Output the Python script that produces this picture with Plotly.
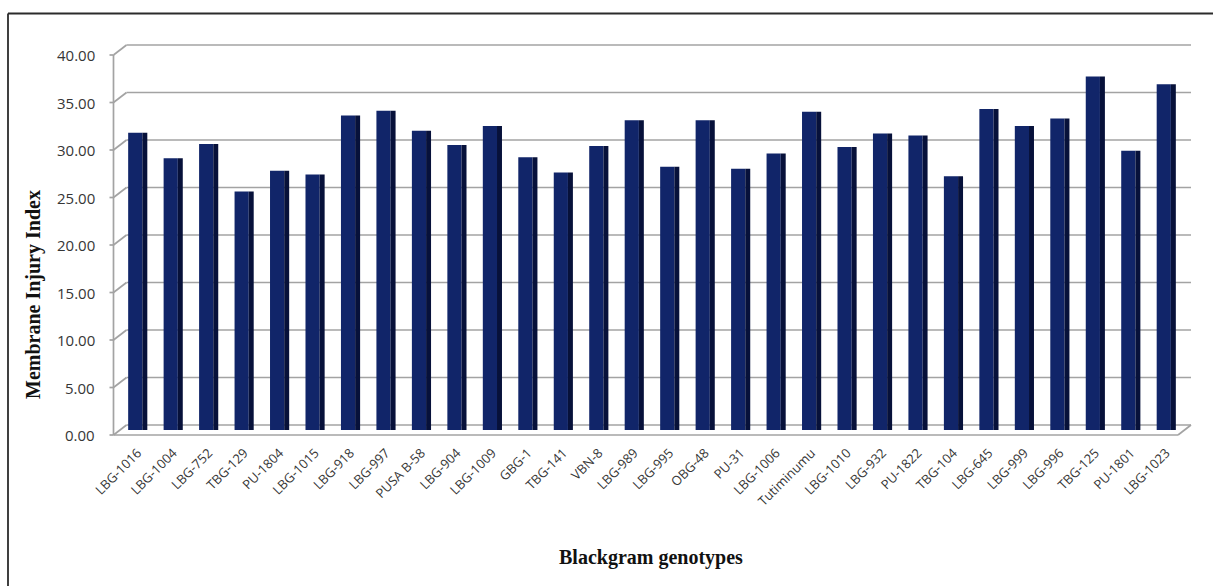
import plotly.graph_objects as go

# Membrane injury index per blackgram genotype
genotypes = [
    "LBG-1016", "LBG-1004", "LBG-752", "TBG-129", "PU-1804", "LBG-1015",
    "LBG-918", "LBG-997", "PUSA B-58", "LBG-904", "LBG-1009", "GBG-1",
    "TBG-141", "VBN-8", "LBG-989", "LBG-995", "OBG-48", "PU-31",
    "LBG-1006", "Tutiminumu", "LBG-1010", "LBG-932", "PU-1822", "TBG-104",
    "LBG-645", "LBG-999", "LBG-996", "TBG-125", "PU-1801", "LBG-1023",
]
mii = [
    31.3, 28.6, 30.1, 25.1, 27.3, 26.9,
    33.1, 33.6, 31.5, 30.0, 32.0, 28.7,
    27.1, 29.9, 32.6, 27.7, 32.6, 27.5,
    29.1, 33.5, 29.8, 31.2, 31.0, 26.7,
    33.8, 32.0, 32.8, 37.2, 29.4, 36.4,
]
y_ticks = [0, 5, 10, 15, 20, 25, 30, 35, 40]

W_FIG, H_FIG = 1213, 586
L, R, T, B = 120, 29, 50, 156
PW = W_FIG - L - R
PH = H_FIG - T - B
BOTTOM = H_FIG - B          # pixel row of value 0 (mid depth)
PX_PER_UNIT = PH / 40.0


def px_x(px):
    return (px - L) / PW


def px_y(py):
    return (BOTTOM - py) / PH


DEPTH = 5                   # half depth of the 3-D box in pixels (vertical)
DX = 6.5                    # half depth of the 3-D box in pixels (horizontal)
front_x = L - DX
back_x = L + DX
right_back = 1191
grid_col = "#a3a3a3"
text_col = "#363636"

fig = go.Figure()

# column front faces
fig.add_trace(go.Bar(
    x=list(range(len(genotypes))), y=mii,
    width=0.40, offset=-0.27,
    marker=dict(color="#112569", line=dict(width=0)),
    hoverinfo="skip", showlegend=False,
))
# darker side faces
fig.add_trace(go.Bar(
    x=list(range(len(genotypes))), y=mii,
    width=0.14, offset=0.13,
    marker=dict(color="#07113a", line=dict(width=0)),
    hoverinfo="skip", showlegend=False,
))

shapes = []


def seg(x0, y0, x1, y1, color=grid_col, width=1.7):
    shapes.append(dict(
        type="line", xref="paper", yref="paper",
        x0=px_x(x0), y0=px_y(y0), x1=px_x(x1), y1=px_y(y1),
        line=dict(color=color, width=width), layer="below",
    ))


annotations = []
for v in y_ticks:
    yb = BOTTOM - DEPTH - v * PX_PER_UNIT
    yf = BOTTOM + DEPTH - v * PX_PER_UNIT
    # back-wall gridline
    seg(back_x, yb, right_back, yb)
    # side-wall connector to the front axis
    seg(front_x, yf, back_x, yb)
    # tick mark
    seg(front_x - 4, yf, front_x, yf)
    annotations.append(dict(
        text=f"{v:.2f}", xref="paper", yref="paper",
        x=px_x(97), y=px_y(yf), xanchor="right", yanchor="middle",
        showarrow=False, font=dict(family="Open Sans", size=15, color=text_col),
    ))

# front value axis
seg(front_x, BOTTOM + DEPTH, front_x, BOTTOM + DEPTH - 40 * PX_PER_UNIT)
# floor front edge and right corner
seg(front_x, BOTTOM + DEPTH, right_back - 2 * DX, BOTTOM + DEPTH)
seg(right_back - 2 * DX, BOTTOM + DEPTH, right_back, BOTTOM - DEPTH)

# outer frame (top and left edges)
shapes.append(dict(type="line", xref="paper", yref="paper",
                   x0=px_x(8), y0=px_y(13.5), x1=px_x(W_FIG + 5), y1=px_y(13.5),
                   line=dict(color="#2b2b2b", width=1.8)))
shapes.append(dict(type="line", xref="paper", yref="paper",
                   x0=px_x(8), y0=px_y(13.5), x1=px_x(8), y1=px_y(H_FIG + 5),
                   line=dict(color="#2b2b2b", width=1.8)))

annotations.append(dict(
    text="<b>Membrane Injury Index</b>", xref="paper", yref="paper",
    x=px_x(33), y=px_y(295), textangle=-90, showarrow=False,
    xanchor="center", yanchor="middle",
    font=dict(family="Liberation Serif", size=20, color="#111111"),
))
annotations.append(dict(
    text="<b>Blackgram genotypes</b>", xref="paper", yref="paper",
    x=px_x(651), y=px_y(557), showarrow=False,
    xanchor="center", yanchor="middle",
    font=dict(family="Liberation Serif", size=20, color="#111111"),
))

fig.update_layout(
    width=W_FIG, height=H_FIG,
    margin=dict(l=L, r=R, t=T, b=B, pad=0),
    paper_bgcolor="white", plot_bgcolor="rgba(0,0,0,0)",
    barmode="overlay",
    shapes=shapes, annotations=annotations,
    xaxis=dict(
        range=[-0.5, len(genotypes) - 0.5],
        tickmode="array", tickvals=list(range(len(genotypes))), ticktext=genotypes,
        tickangle=-45, showgrid=False, zeroline=False, showline=False,
        ticks="", ticklabelstandoff=12,
        tickfont=dict(family="Open Sans", size=13, color=text_col),
    ),
    yaxis=dict(
        range=[0, 40], showgrid=False, zeroline=False, showline=False,
        showticklabels=False, ticks="",
    ),
)

fig.write_html("out.html")
